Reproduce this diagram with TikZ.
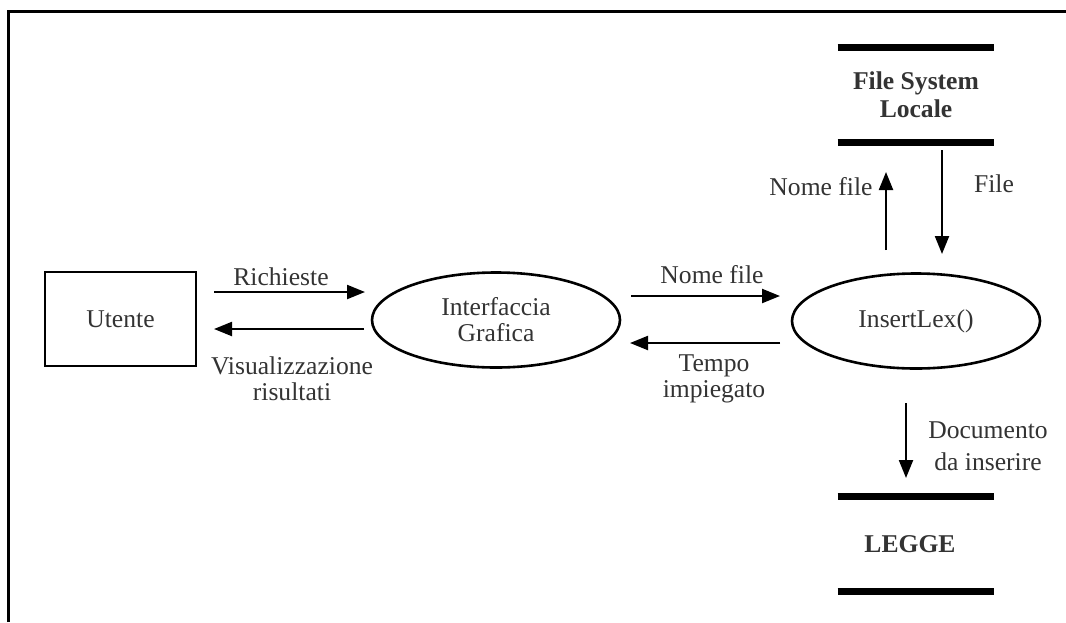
\documentclass[tikz,border=0pt]{standalone}
\usepackage{fontspec}
\setmainfont{Liberation Serif}
\usetikzlibrary{arrows.meta,shapes.geometric}

\begin{document}
\begin{tikzpicture}[x=0.5pt,y=-0.5pt,
  every node/.style={font=\fontsize{12.8}{13}\selectfont, text=black!80, inner sep=0pt},
  lbl/.style={align=center},
  flow/.style={line width=1.1pt, -{Triangle[length=9pt,width=7pt]}},
  bar/.style={line width=3.5pt},
  frame/.style={line width=1.5pt},
  proc/.style={draw, ellipse, line width=1.3pt, minimum width=124pt, minimum height=47.5pt, align=center},
  ext/.style={draw, rectangle, line width=1.3pt, minimum width=75.5pt, minimum height=47pt},
  datastore/.style={rectangle, minimum width=78pt, minimum height=47pt, align=center, font=\fontsize{12.8}{14}\selectfont\bfseries}]

\useasboundingbox (0,0) rectangle (1066,622);

% page frame (top and left edges)
\draw[frame] (8.5,622) -- (8.5,11) -- (1066,11);

% entities, processes and data stores
\node[ext]  (ute) at (120.5,319) {Utente};
\node[proc] (gui) at (496,320) {Interfaccia\\Grafica};
\node[proc] (ins) at (916,321) {InsertLex()};
\node[datastore] (fs)  at (916,95)  {File System\\Locale};
\node[datastore] (leg) at (916,544) {\hspace*{-6pt}LEGGE};

\draw[bar] (fs.north west) -- (fs.north east);
\draw[bar] (fs.south west) -- (fs.south east);
\draw[bar] (leg.north west) -- (leg.north east);
\draw[bar] (leg.south west) -- (leg.south east);

% flow end points
\coordinate (ra) at (214,292);  \coordinate (rb) at (365,292);
\coordinate (va) at (364,329);  \coordinate (vb) at (214,329);
\coordinate (na) at (631,296);  \coordinate (nb) at (780,296);
\coordinate (ta) at (780,343);  \coordinate (tb) at (630,343);
\coordinate (ua) at (886,250);  \coordinate (ub) at (886,172);
\coordinate (da) at (942,150);  \coordinate (db) at (942,254);
\coordinate (ia) at (906,403);  \coordinate (ib) at (906,478);

\draw[flow] (ra) -- (rb);
\draw[flow] (va) -- (vb);
\draw[flow] (na) -- (nb);
\draw[flow] (ta) -- (tb);
\draw[flow] (ua) -- (ub);
\draw[flow] (da) -- (db);
\draw[flow] (ia) -- (ib);

% flow labels
\node[lbl] (lr) at (281,277) {Richieste};
\node[lbl] (lv) at (292,379) {Visualizzazione\\risultati};
\node[lbl] (ln) at (712,275) {Nome file};
\node[lbl] (lt) at (714,379) {Tempo\\impiegato};
\node[lbl] (lu) at (821,187) {Nome file};
\node[lbl] (ld) at (994,184) {File};
\node[lbl, font=\fontsize{12.8}{16}\selectfont] (li) at (988,446) {Documento\\da inserire};

\end{tikzpicture}
\end{document}
